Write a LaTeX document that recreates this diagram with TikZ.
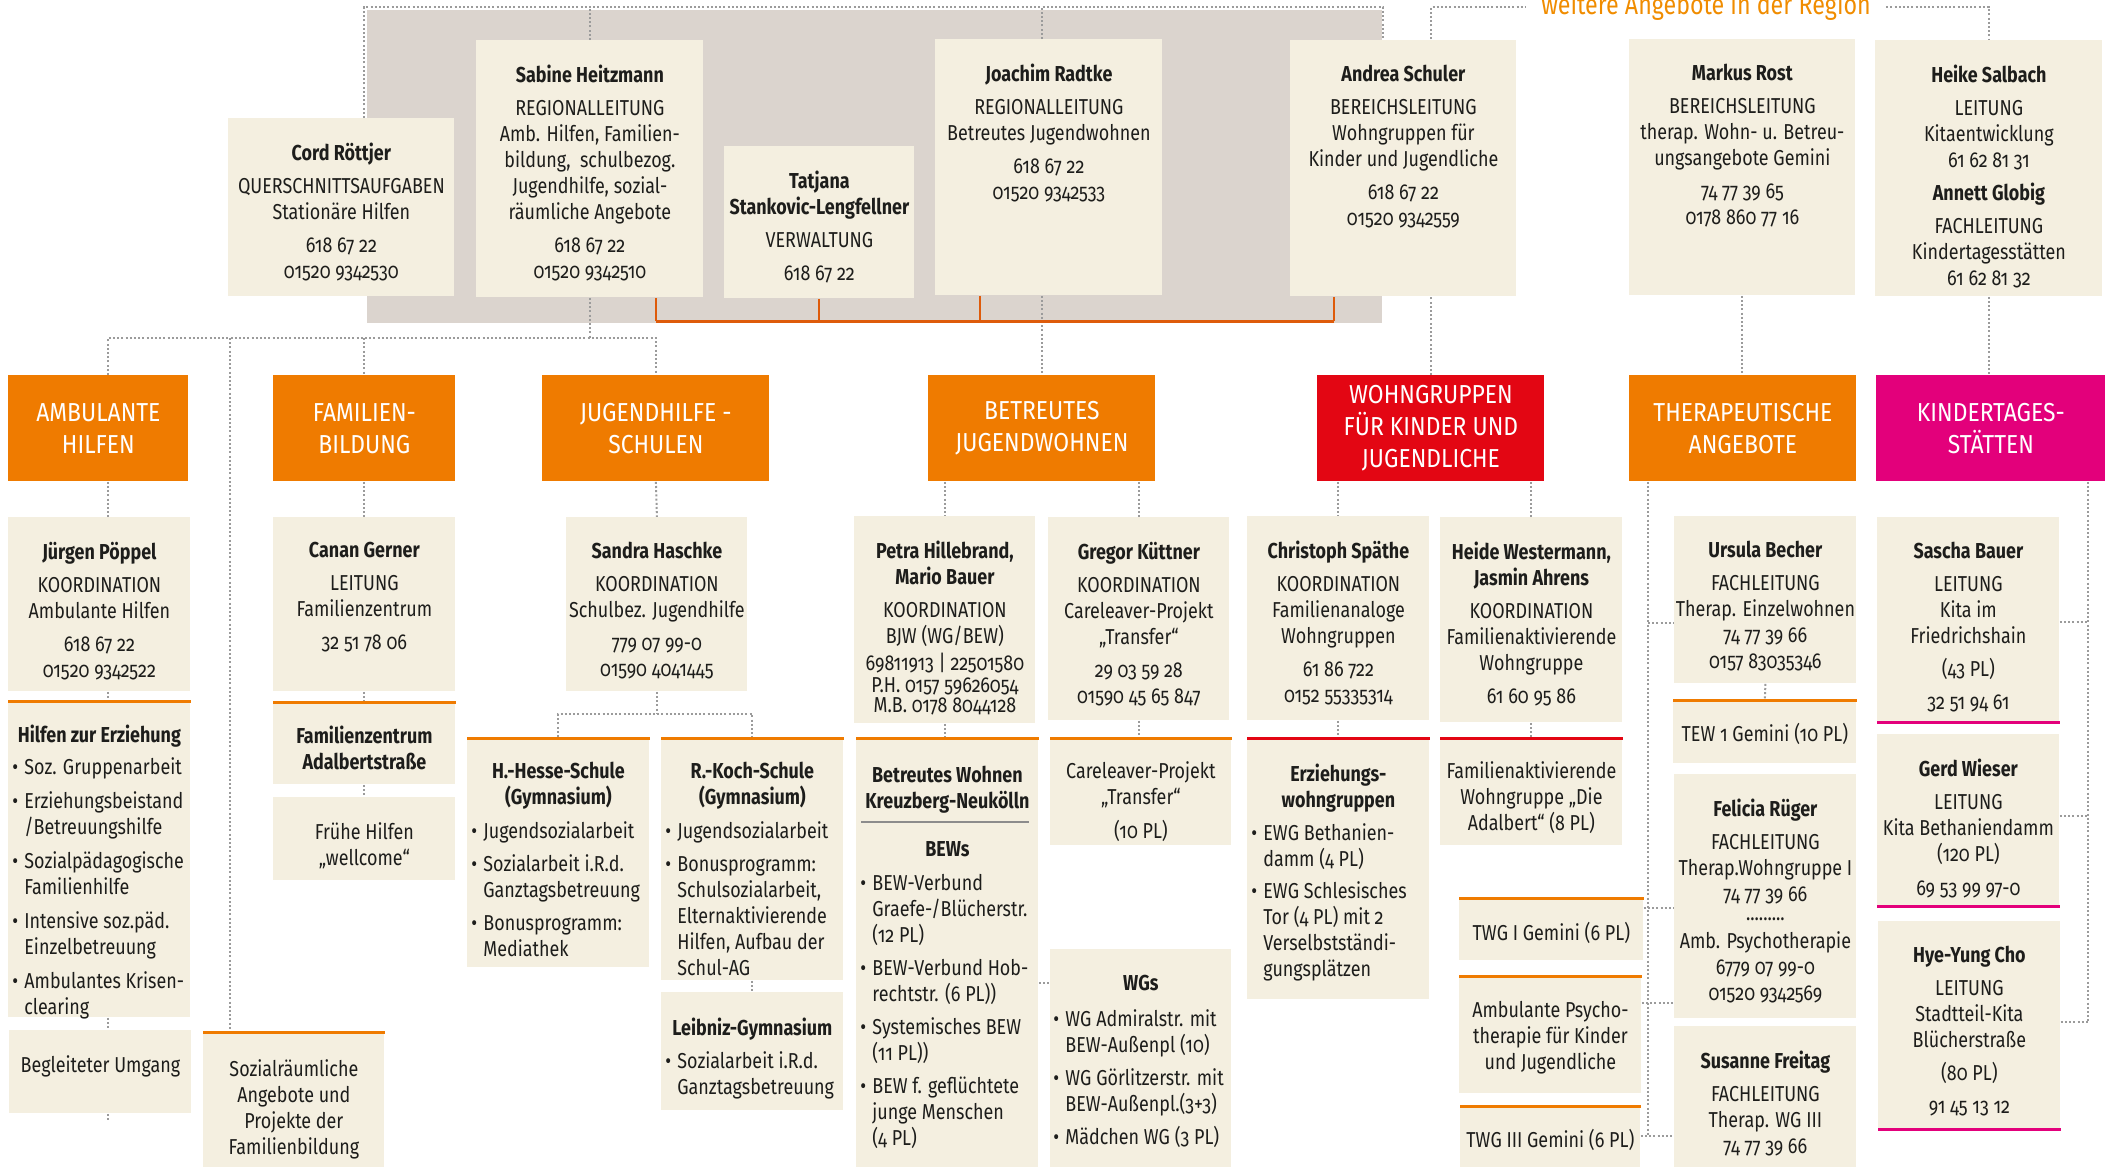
\documentclass[tikz,border=0pt]{standalone}
\usepackage{fontspec}
\setmainfont{Fira Sans}[FakeStretch=0.83,Numbers=OldStyle]
\newfontfamily\headfont{Fira Sans}[FakeStretch=0.88]
\usetikzlibrary{backgrounds}
\definecolor{beige}{HTML}{F4EFE0}
\definecolor{frame}{HTML}{DBD4CE}
\definecolor{orng}{HTML}{EF7B00}
\definecolor{wgred}{HTML}{E30613}
\definecolor{kitapink}{HTML}{E3007B}
\definecolor{bracket}{HTML}{DE5B0B}
\definecolor{regorange}{HTML}{F08C00}
\definecolor{dotgray}{HTML}{9B9B9B}
\definecolor{rulegray}{HTML}{8C8C8C}
\definecolor{ink}{HTML}{1D1D1B}
\newcommand\bitem{\makebox[6pt][l]{\textbullet}}
\newcommand\bcont{\hspace*{6pt}}
\begin{document}
\begin{tikzpicture}[x=0.5pt,y=-0.5pt]
\tikzset{
  cell/.style={fill=beige,inner sep=0pt,anchor=north west},
  hdr/.style={inner sep=0pt,anchor=north west,align=center,text=white,font=\headfont\fontsize{13pt}{16pt}\selectfont,minimum width=113.5pt,minimum height=53pt},
  txt/.style={inner sep=0pt,anchor=north,align=center,text=ink,font=\fontsize{10.8pt}{13pt}\selectfont},
  lst/.style={inner sep=0pt,anchor=north west,align=left,text=ink,font=\fontsize{10.8pt}{13pt}\selectfont},
  link/.style={draw=dotgray,line width=1pt,dash pattern=on 1pt off 1.1pt},
  brk/.style={draw=bracket,line width=1pt},
  topline/.style={line width=1.5pt}
}
\useasboundingbox (0,0) rectangle (2111,1167);

% leadership row
\node[cell,minimum width=113pt,minimum height=89pt] (cord) at (228,118) {};
\node[cell,minimum width=113.5pt,minimum height=128.5pt] (sabine) at (476,40) {};
\node[cell,minimum width=95pt,minimum height=76pt] (tatjana) at (724,146) {};
\node[cell,minimum width=113.5pt,minimum height=128pt] (joachim) at (935,39) {};
\node[cell,minimum width=113pt,minimum height=128pt] (andrea) at (1290,40) {};
\node[cell,minimum width=113pt,minimum height=128pt] (markus) at (1629,39) {};
\node[cell,minimum width=113.5pt,minimum height=128pt] (heike) at (1875,40) {};
\node[txt] (cord-t) at ([yshift=-12.5pt]cord.north) {\textbf{Cord Röttjer}\\[3.5pt]QUERSCHNITTSAUFGABEN\\Stationäre Hilfen\\[3.5pt]618 67 22\\01520 9342530};
\node[txt] (sabine-t) at ([yshift=-12.5pt]sabine.north) {\textbf{Sabine Heitzmann}\\[3.5pt]REGIONALLEITUNG\\Amb. Hilfen, Familien-\\bildung,\ \ schulbezog.\\Jugendhilfe, sozial-\\räumliche Angebote\\[3.5pt]618 67 22\\01520 9342510};
\node[txt] (tatjana-t) at ([yshift=-12.5pt]tatjana.north) {\textbf{Tatjana}\\\textbf{Stankovic-Lengfellner}\\[3.5pt]VERWALTUNG\\[3.5pt]618 67 22};
\node[txt] (joachim-t) at ([yshift=-12.5pt]joachim.north) {\textbf{Joachim Radtke}\\[3.5pt]REGIONALLEITUNG\\Betreutes Jugendwohnen\\[3.5pt]618 67 22\\01520 9342533};
\node[txt] (andrea-t) at ([yshift=-12.5pt]andrea.north) {\textbf{Andrea Schuler}\\[3.5pt]BEREICHSLEITUNG\\Wohngruppen für\\Kinder und Jugendliche\\[3.5pt]618 67 22\\01520 9342559};
\node[txt] (markus-t) at ([yshift=-12.5pt]markus.north) {\textbf{Markus Rost}\\[3.5pt]BEREICHSLEITUNG\\therap. Wohn- u. Betreu-\\ungsangebote Gemini\\[3.5pt]74 77 39 65\\0178 860 77 16};
\node[txt] (heike-t) at ([yshift=-12.5pt]heike.north) {\textbf{Heike Salbach}\\[3.5pt]LEITUNG\\Kitaentwicklung\\61 62 81 31\\[3.5pt]\textbf{Annett Globig}\\[3.5pt]FACHLEITUNG\\Kindertagesstätten\\61 62 81 32};
\node[font=\fontsize{14pt}{16pt}\selectfont,text=regorange,inner xsep=7.5pt,inner ysep=0pt,anchor=base] (region) at (1706,14) {weitere Angebote in der Region};

% areas
\node[hdr,fill=orng,minimum width=90pt] (amb) at (8,375) {AMBULANTE\\HILFEN};
\node[hdr,fill=orng,minimum width=91pt] (fam) at (273,375) {FAMILIEN-\\BILDUNG};
\node[hdr,fill=orng] (jug) at (542,375) {JUGENDHILFE -\\SCHULEN};
\node[hdr,fill=orng] (bjw) at (928,375) {BETREUTES\\JUGENDWOHNEN};
\node[hdr,fill=wgred] (wg) at (1317,375) {WOHNGRUPPEN\\FÜR KINDER UND\\JUGENDLICHE};
\node[hdr,fill=orng] (ther) at (1629,375) {THERAPEUTISCHE\\ANGEBOTE};
\node[hdr,fill=kitapink,minimum width=114.5pt] (kita) at (1876,375) {KINDERTAGES-\\STÄTTEN};

% ambulante hilfen
\node[cell,minimum width=91pt,minimum height=87pt] (jpoe) at (8,517) {};
\node[cell,minimum width=91pt,minimum height=158.5pt] (hze) at (8,700) {};
\node[cell,minimum width=91pt,minimum height=41.5pt] (beg) at (9,1030) {};
\node[txt] (jpoe-t) at ([yshift=-12.5pt]jpoe.north) {\textbf{Jürgen Pöppel}\\[3.5pt]KOORDINATION\\Ambulante Hilfen\\[3.5pt]618 67 22\\01520 9342522};
\node[txt] (hze-h) at ([yshift=-12.5pt]hze.north) {\textbf{Hilfen zur Erziehung}};
\node[lst] (hze-l) at ([xshift=2pt,yshift=-28.5pt]hze.north west) {\bitem Soz. Gruppenarbeit\\[4pt]\bitem Erziehungsbeistand\\\bcont/Betreuungshilfe\\[4pt]\bitem Sozialpädagogische\\\bcont Familienhilfe\\[4pt]\bitem Intensive soz.päd.\\\bcont Einzelbetreuung\\[4pt]\bitem Ambulantes Krisen-\\\bcont clearing};
\node[txt] (beg-t) at ([yshift=-12.5pt]beg.north) {Begleiteter Umgang};

% familienbildung
\node[cell,minimum width=91pt,minimum height=87pt] (canan) at (273,517) {};
\node[cell,minimum width=91pt,minimum height=41.5pt] (fza) at (273,701) {};
\node[cell,minimum width=91pt,minimum height=41.5pt] (fruehe) at (273,797) {};
\node[cell,minimum width=90.5pt,minimum height=70pt] (sozr) at (203,1031) {};
\node[txt] (canan-t) at ([yshift=-12.5pt]canan.north) {\textbf{Canan Gerner}\\[3.5pt]LEITUNG\\Familienzentrum\\[3.5pt]32 51 78 06};
\node[txt] (fza-t) at ([yshift=-12.5pt]fza.north) {\textbf{Familienzentrum}\\\textbf{Adalbertstraße}};
\node[txt] (fruehe-t) at ([yshift=-12.5pt]fruehe.north) {Frühe Hilfen\\„wellcome“};
\node[txt] (sozr-t) at ([yshift=-14pt]sozr.north) {Sozialräumliche\\Angebote und\\Projekte der\\Familienbildung};

% jugendhilfe - schulen
\node[cell,minimum width=90.5pt,minimum height=87pt] (sandra) at (566,517) {};
\node[cell,minimum width=91pt,minimum height=115pt] (hesse) at (467,737) {};
\node[cell,minimum width=91pt,minimum height=121.5pt] (koch) at (661,737) {};
\node[cell,minimum width=91pt,minimum height=59pt] (leibniz) at (661,992) {};
\node[txt] (sandra-t) at ([yshift=-12.5pt]sandra.north) {\textbf{Sandra Haschke}\\[3.5pt]KOORDINATION\\Schulbez. Jugendhilfe\\[3.5pt]779 07 99-0\\01590 4041445};
\node[txt] (hesse-h) at ([yshift=-12.5pt]hesse.north) {\textbf{H.-Hesse-Schule}\\\textbf{(Gymnasium)}};
\node[lst] (hesse-l) at ([xshift=2pt,yshift=-42pt]hesse.north west) {\bitem Jugendsozialarbeit\\[3.5pt]\bitem Sozialarbeit i.R.d.\\\bcont Ganztagsbetreuung\\[3.5pt]\bitem Bonusprogramm:\\\bcont Mediathek};
\node[txt] (koch-h) at ([yshift=-12.5pt]koch.north) {\textbf{R.-Koch-Schule}\\\textbf{(Gymnasium)}};
\node[lst] (koch-l) at ([xshift=2pt,yshift=-42pt]koch.north west) {\bitem Jugendsozialarbeit\\[3.5pt]\bitem Bonusprogramm:\\\bcont Schulsozialarbeit,\\\bcont Elternaktivierende\\\bcont Hilfen, Aufbau der\\\bcont Schul-AG};
\node[txt] (leibniz-h) at ([yshift=-13pt]leibniz.north) {\textbf{Leibniz-Gymnasium}};
\node[lst] (leibniz-l) at ([xshift=2pt,yshift=-29.5pt]leibniz.north west) {\bitem Sozialarbeit i.R.d.\\\bcont Ganztagsbetreuung};

% betreutes jugendwohnen
\node[cell,minimum width=90.5pt,minimum height=103.5pt] (petra) at (854,516) {};
\node[cell,minimum width=90.5pt,minimum height=101.5pt] (gregor) at (1048,517) {};
\node[cell,minimum width=91pt,minimum height=217.5pt] (bwk) at (856,737) {};
\node[cell,minimum width=90.5pt,minimum height=54pt] (care) at (1050,737) {};
\node[cell,minimum width=90.5pt,minimum height=111pt] (wgs) at (1050,949) {};
\node[txt] (petra-t) at ([yshift=-12.5pt]petra.north) {\textbf{Petra Hillebrand,}\\\textbf{Mario Bauer}\\[3.5pt]KOORDINATION\\BJW (WG/BEW)\\[0.5pt]69811913 | 22501580\\[-2pt]P.H. 0157 59626054\\[-3pt]M.B. 0178 8044128};
\node[txt] (gregor-t) at ([yshift=-12.5pt]gregor.north) {\textbf{Gregor Küttner}\\[3.5pt]KOORDINATION\\Careleaver-Projekt\\„Transfer“\\[3.5pt]29 03 59 28\\01590 45 65 847};
\node[txt] (bwk-h) at ([yshift=-14.5pt]bwk.north) {\textbf{Betreutes Wohnen}\\\textbf{Kreuzberg-Neukölln}};
\draw[line width=1.2pt,rulegray] ([xshift=2.5pt,yshift=-42.5pt]bwk.north west) -- ([xshift=-5pt,yshift=-42.5pt]bwk.north east);
\node[txt] (bwk-s) at ([yshift=-52pt]bwk.north) {\textbf{BEWs}};
\node[lst] (bwk-l) at ([xshift=2pt,yshift=-68.5pt]bwk.north west) {\bitem BEW-Verbund\\\bcont Graefe-/Blücherstr.\\\bcont (12 PL)\\[3.5pt]\bitem BEW-Verbund Hob-\\\bcont rechtstr. (6 PL))\\[3.5pt]\bitem Systemisches BEW\\\bcont (11 PL))\\[3.5pt]\bitem BEW f. geflüchtete\\\bcont junge Menschen\\\bcont (4 PL)};
\node[txt] (care-t) at ([yshift=-12pt]care.north) {Careleaver-Projekt\\„Transfer“\\[4pt](10 PL)};
\node[txt] (wgs-h) at ([yshift=-13pt]wgs.north) {\textbf{WGs}};
\node[lst] (wgs-l) at ([xshift=1.5pt,yshift=-30pt]wgs.north west) {\bitem WG Admiralstr. mit\\\bcont BEW-Außenpl (10)\\[3.5pt]\bitem WG Görlitzerstr. mit\\\bcont BEW-Außenpl.(3+3)\\[3.5pt]\bitem Mädchen WG (3 PL)};

% wohngruppen
\node[cell,minimum width=91pt,minimum height=102pt] (chris) at (1247,516) {};
\node[cell,minimum width=91pt,minimum height=102.5pt] (heide) at (1440,517) {};
\node[cell,minimum width=91pt,minimum height=131pt] (ewg) at (1247,737) {};
\node[cell,minimum width=91pt,minimum height=54pt] (fawg) at (1440,737) {};
\node[txt] (chris-t) at ([yshift=-12.5pt]chris.north) {\textbf{Christoph Späthe}\\[3.5pt]KOORDINATION\\Familienanaloge\\Wohngruppen\\[3.5pt]61 86 722\\0152 55335314};
\node[txt] (heide-t) at ([yshift=-12.5pt]heide.north) {\textbf{Heide Westermann,}\\\textbf{Jasmin Ahrens}\\[3.5pt]KOORDINATION\\Familienaktivierende\\Wohngruppe\\[3.5pt]61 60 95 86};
\node[txt] (ewg-h) at ([yshift=-13.5pt]ewg.north) {\textbf{Erziehungs-}\\\textbf{wohngruppen}};
\node[lst] (ewg-l) at ([xshift=2pt,yshift=-43pt]ewg.north west) {\bitem EWG Bethanien-\\\bcont damm (4 PL)\\[3pt]\bitem EWG Schlesisches\\\bcont Tor (4 PL) mit 2\\\bcont Verselbstständi-\\\bcont gungsplätzen};
\node[txt] (fawg-t) at ([yshift=-12pt]fawg.north) {Familienaktivierende\\Wohngruppe „Die\\Adalbert“ (8 PL)};

% therapeutische angebote
\node[cell,minimum width=92pt,minimum height=31.5pt] (twgi) at (1459,897) {};
\node[cell,minimum width=91pt,minimum height=59pt] (psy) at (1459,975) {};
\node[cell,minimum width=90pt,minimum height=33pt] (twgiii) at (1460,1105) {};
\node[cell,minimum width=91pt,minimum height=83.5pt] (ursula) at (1674,516) {};
\node[cell,minimum width=91.5pt,minimum height=32pt] (tew) at (1673,699) {};
\node[cell,minimum width=91pt,minimum height=122pt] (felicia) at (1674,774) {};
\node[cell,minimum width=91pt,minimum height=72.5pt] (susanne) at (1674,1026) {};
\node[txt] (twgi-t) at ([yshift=-12.5pt]twgi.north) {TWG I Gemini (6 PL)};
\node[txt] (psy-t) at ([yshift=-13pt]psy.north) {Ambulante Psycho-\\therapie für Kinder\\und Jugendliche};
\node[txt] (twgiii-t) at ([yshift=-12pt]twgiii.north) {TWG III Gemini (6 PL)};
\node[txt] (ursula-t) at ([yshift=-12.5pt]ursula.north) {\textbf{Ursula Becher}\\[3.5pt]FACHLEITUNG\\Therap. Einzelwohnen\\74 77 39 66\\0157 83035346};
\node[txt] (tew-t) at ([yshift=-12pt]tew.north) {TEW 1 Gemini (10 PL)};
\node[txt] (felicia-t) at ([yshift=-12.5pt]felicia.north) {\textbf{Felicia Rüger}\\[3.5pt]FACHLEITUNG\\Therap.Wohngruppe I\\74 77 39 66\\[-3.75pt].........\\[1.25pt]Amb. Psychotherapie\\6779 07 99-0\\01520 9342569};
\node[txt] (susanne-t) at ([yshift=-12.5pt]susanne.north) {\textbf{Susanne Freitag}\\[3.5pt]FACHLEITUNG\\Therap. WG III\\74 77 39 66};

% kindertagesstaetten
\node[cell,minimum width=91pt,minimum height=103pt] (sascha) at (1877,517) {};
\node[cell,minimum width=91pt,minimum height=86.5pt] (gerd) at (1877,734) {};
\node[cell,minimum width=91pt,minimum height=104.5pt] (hye) at (1878,921) {};
\node[txt] (sascha-t) at ([yshift=-12.5pt]sascha.north) {\textbf{Sascha Bauer}\\[3.5pt]LEITUNG\\Kita im\\Friedrichshain\\[3.5pt](43 PL)\\[3.5pt]32 51 94 61};
\node[txt] (gerd-t) at ([yshift=-12.5pt]gerd.north) {\textbf{Gerd Wieser}\\[3.5pt]LEITUNG\\Kita Bethaniendamm\\(120 PL)\\[4pt]69 53 99 97-0};
\node[txt] (hye-t) at ([yshift=-12.5pt]hye.north) {\textbf{Hye-Yung Cho}\\[3.5pt]LEITUNG\\Stadtteil-Kita\\Blücherstraße\\[3.5pt](80 PL)\\[3.5pt]91 45 13 12};

% accent lines
\foreach \b in {hze,fza,sozr,hesse,koch,bwk,care,twgi,psy,twgiii,tew}
  \draw[topline,orng] ([yshift=-0.75pt]\b.north west) -- ([yshift=-0.75pt]\b.north east);
\foreach \b in {ewg,fawg}
  \draw[topline,wgred] ([yshift=-0.75pt]\b.north west) -- ([yshift=-0.75pt]\b.north east);
\foreach \b in {sascha,gerd,hye}
  \draw[topline,kitapink] ([yshift=0.75pt]\b.south west) -- ([yshift=0.75pt]\b.south east);

\begin{scope}[on background layer]
  \fill[frame] (367,10) rectangle (1382,323);
  % top bus
  \coordinate (busL) at (364,7);
  \coordinate (busR) at (1383,7);
  \draw[link] (cord.north -| busL) -- (busL) -- (busR) -- (busR |- andrea.north);
  \draw[link] (sabine.north) -- (sabine.north |- busL);
  \draw[link] (joachim.north -| bjw.north) -- (bjw.north |- busL);
  \draw[link] (joachim.south -| bjw.north) -- (bjw.north);
  % region bus
  \coordinate (regL) at (wg.north |- 0,7);
  \draw[link] (wg.north) -- (regL) -- (regL -| region.west);
  \draw[link] (regL -| region.east) -- (regL -| heike.north) -- (heike.north);
  \draw[link] (heike.south) -- (heike.south |- kita.north);
  \draw[link] (markus.south) -- (markus.south |- ther.north);
  % bracket
  \coordinate (brL) at (656,321);
  \coordinate (brR) at (1334,321);
  \draw[brk] (brL |- sabine.south) -- (brL);
  \draw[brk] (tatjana.south) -- (tatjana.south |- brL);
  \draw[brk] (980,0 |- joachim.south) -- (980,0 |- brL);
  \draw[brk] (brR |- andrea.south) -- (brR);
  \draw[brk,line width=1.5pt] (brL) -- (brR);
  % sabine to areas
  \coordinate (famL) at (108,338);
  \coordinate (sozL) at (230,338);
  \draw[link] (sabine.south) -- (sabine.south |- famL);
  \draw[link] (amb.north -| famL) -- (famL) -- (famL -| jug.north) -- (jug.north);
  \draw[link] (fam.north |- famL) -- (fam.north);
  \draw[link] (sozL) -- (sozL |- sozr.north);
  % ambulante hilfen
  \draw[link] (amb.south -| famL) -- (jpoe.north -| famL);
  \draw[link] (jpoe.south -| famL) -- (hze.north -| famL);
  \draw[link] (hze.south -| famL) -- (beg.north -| famL);
  \draw[link] (beg.south -| famL) -- ++(0,8);
  % familienbildung
  \draw[link] (fam.south) -- (canan.north);
  \draw[link] (canan.south) -- (fza.north);
  \draw[link] (fza.south) -- (fruehe.north);
  % schulen
  \coordinate (schJ) at (656,714);
  \draw[link] (jug.south) -- (sandra.north);
  \draw[link] (sandra.south) -- (sandra.south |- schJ);
  \draw[link] (hesse.north) |- (schJ) -| (koch.north);
  \draw[link] (koch.south) -- (leibniz.north);
  % bjw
  \draw[link] (bjw.south -| petra.north) -- (petra.north);
  \draw[link] (bjw.south -| gregor.north) -- (gregor.north);
  \draw[link] (petra.south) -- (petra.south |- bwk.north);
  \draw[link] (gregor.south) -- (gregor.south |- care.north);
  \draw[link] (wgs-h.center -| bwk.east) -- (wgs-h.center -| wgs.west);
  % wohngruppen
  \draw[link] (wg.south -| chris.north) -- (chris.north);
  \draw[link] (wg.south -| heide.north) -- (heide.north);
  \draw[link] (chris.south) -- (ewg.north);
  \draw[link] (heide.south) -- (fawg.north);
  % therapeutische angebote
  \coordinate (thV) at ([xshift=9.5pt]ther.south west);
  \coordinate (thA) at (thV |- 0,623);
  \coordinate (thB) at (thV |- 0,908);
  \coordinate (thC) at (thV |- 0,1003);
  \coordinate (thD) at (thV |- 0,1136);
  \draw[link] (thV) -- (thD);
  \draw[link] (thA) -- (thA -| ursula.west);
  \draw[link] (twgi.east |- thB) -- (thB -| felicia.west);
  \draw[link] (psy.east |- thC) -- (thC -| felicia.west);
  \draw[link] (twgiii.east |- thD) -- (thD -| susanne.west);
  \draw[link] (ursula.south) -- (tew.north);
  % kitas
  \coordinate (kiV) at ([xshift=-9pt]kita.south east);
  \coordinate (kiA) at (kiV |- 0,622);
  \coordinate (kiB) at (kiV |- 0,816);
  \coordinate (kiC) at (kiV |- 0,1022);
  \draw[link] (kiV) -- (kiC);
  \draw[link] (kiA -| sascha.east) -- (kiA);
  \draw[link] (kiB -| gerd.east) -- (kiB);
  \draw[link] (kiC -| hye.east) -- (kiC);
\end{scope}
\end{tikzpicture}
\end{document}
